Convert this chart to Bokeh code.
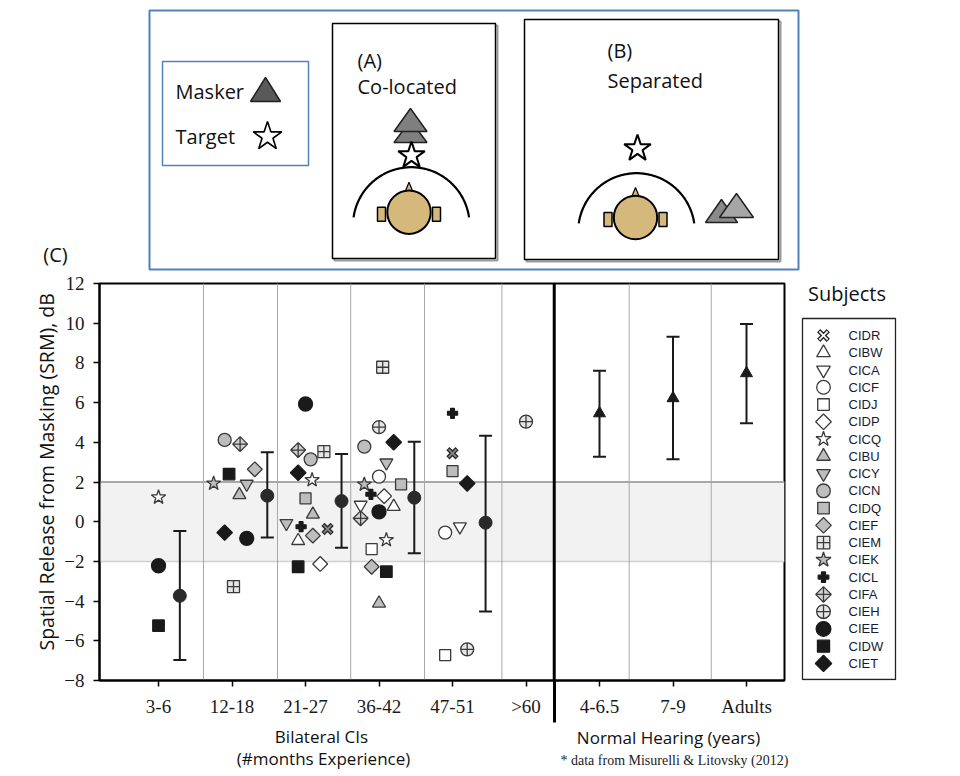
import numpy as np
from bokeh.plotting import figure
from bokeh.models import (Range1d, FixedTicker, Span, BoxAnnotation, Whisker, TeeHead,
                          ColumnDataSource)
from bokeh.layouts import column, row
from bokeh.embed import file_html
from bokeh.resources import INLINE
from bokeh.core.properties import value

# ---------------- data ----------------
group_labels = ["3-6", "12-18", "21-27", "36-42", "47-51", ">60", "4-6.5", "7-9", "Adults"]

subjects = ["CIDR", "CIBW", "CICA", "CICF", "CIDJ", "CIDP", "CICQ", "CIBU", "CICY", "CICN",
            "CIDQ", "CIEF", "CIEM", "CIEK", "CICL", "CIFA", "CIEH", "CIEE", "CIDW", "CIET"]

pt_subject = ["CICQ", "CIEE", "CIDW",
              "CICN", "CIFA", "CIDW", "CIEF", "CIEK", "CICY", "CIBU", "CIET", "CIEE", "CIEM",
              "CIEE", "CIFA", "CIEM", "CICN", "CIET", "CICQ", "CIDQ", "CIBU", "CICY", "CICL",
              "CIEF", "CIDR", "CIBW", "CIDW", "CIDP",
              "CIEM", "CIEH", "CICN", "CIET", "CICY", "CICF", "CIEK", "CIDQ", "CICL", "CIDP",
              "CICA", "CIBW", "CIEE", "CIFA", "CICQ", "CIDJ", "CIEF", "CIDW", "CIBU",
              "CICL", "CIDR", "CIDQ", "CIET", "CICF", "CICA", "CIDJ", "CIEH",
              "CIEH"]
pt_group = [0, 0, 0,
            1, 1, 1, 1, 1, 1, 1, 1, 1, 1,
            2, 2, 2, 2, 2, 2, 2, 2, 2, 2, 2, 2, 2, 2, 2,
            3, 3, 3, 3, 3, 3, 3, 3, 3, 3, 3, 3, 3, 3, 3, 3, 3, 3, 3,
            4, 4, 4, 4, 4, 4, 4, 4,
            5]
pt_offset = [0.0, 0.0, 0.0,
             -0.10, 0.11, -0.04, 0.31, -0.25, 0.20, 0.10, -0.10, 0.20, 0.02,
             0.0, -0.10, 0.25, 0.07, -0.10, 0.09, 0.0, 0.10, -0.26, -0.06, 0.10, 0.30, -0.10, -0.10, 0.20,
             0.05, 0.0, -0.20, 0.20, 0.10, 0.0, -0.20, 0.30, -0.11, 0.07, -0.25, 0.20, 0.0, -0.25, 0.10,
             -0.10, -0.10, 0.10, 0.0,
             0.0, 0.0, 0.0, 0.20, -0.10, 0.10, -0.10, 0.20,
             0.0]
pt_srm = [1.23, -2.22, -5.24,
          4.12, 3.91, 2.40, 2.64, 1.93, 1.90, 1.35, -0.55, -0.84, -3.27,
          5.93, 3.61, 3.53, 3.14, 2.47, 2.10, 1.18, 0.37, -0.08, -0.25, -0.70, -0.37, -0.96, -2.27, -2.13,
          7.78, 4.76, 3.78, 4.00, 2.97, 2.27, 1.88, 1.88, 1.38, 1.29, 0.84, 0.76, 0.50, 0.17, -0.92,
          -1.38, -2.27, -2.52, -4.11,
          5.46, 3.45, 2.55, 1.93, -0.55, -0.25, -6.72, -6.43,
          5.04]

ci_group = [0, 1, 2, 3, 4]
ci_offset = [0.29, 0.48, 0.49, 0.48, 0.45]
ci_mean = [-3.73, 1.31, 1.04, 1.21, -0.05]
ci_lo = [-6.97, -0.80, -1.31, -1.59, -4.53]
ci_hi = [-0.47, 3.50, 3.41, 4.03, 4.33]

nh_group = [6, 7, 8]
nh_mean = [5.46, 6.22, 7.48]
nh_lo = [3.27, 3.14, 4.96]
nh_hi = [7.61, 9.32, 9.96]

group_bounds = [0.612, 1.619, 2.615, 3.619, 4.672, 6.404, 7.52]
ci_nh_bound = 5.384
band_lo, band_hi = -2, 2

# ---------------- styles ----------------
GREY = "#bdbdbd"
WHITE = "#ffffff"
BLACK = "#1a1a1a"
EDGE = "#3a3a3a"
D45 = np.pi / 4
style = {
    "CIDR": dict(marker="x", fill=None, size=13, angle=0),
    "CIBW": dict(marker="triangle", fill=WHITE, size=13, angle=0),
    "CICA": dict(marker="inverted_triangle", fill=WHITE, size=13, angle=0),
    "CICF": dict(marker="circle", fill=WHITE, size=13, angle=0),
    "CIDJ": dict(marker="square", fill=WHITE, size=11, angle=0),
    "CIDP": dict(marker="square", fill=WHITE, size=10.5, angle=D45),
    "CICQ": dict(marker="star", fill=WHITE, size=15, angle=0),
    "CIBU": dict(marker="triangle", fill=GREY, size=13, angle=0),
    "CICY": dict(marker="inverted_triangle", fill=GREY, size=13, angle=0),
    "CICN": dict(marker="circle", fill=GREY, size=13, angle=0),
    "CIDQ": dict(marker="square", fill=GREY, size=11, angle=0),
    "CIEF": dict(marker="square", fill=GREY, size=10.5, angle=D45),
    "CIEM": dict(marker="square_cross", fill="#e6e6e6", size=12, angle=0),
    "CIEK": dict(marker="star", fill=GREY, size=15, angle=0),
    "CICL": dict(marker="plus", fill=BLACK, size=10, angle=0),
    "CIFA": dict(marker="square_x", fill="#d0d0d0", size=10.5, angle=D45),
    "CIEH": dict(marker="circle_cross", fill="#e6e6e6", size=13, angle=0),
    "CIEE": dict(marker="circle", fill=BLACK, size=14, angle=0),
    "CIDW": dict(marker="square", fill=BLACK, size=11.5, angle=0),
    "CIET": dict(marker="square", fill=BLACK, size=11, angle=D45),
}


def draw_marker(fig, xs, ys, s, scale=1.0, inner="#8a8a8a"):
    if s["marker"] == "x":
        fig.scatter(xs, ys, marker="x", size=s["size"] * scale, line_color="#2a2a2a", line_width=4.5)
        fig.scatter(xs, ys, marker="x", size=s["size"] * scale - 2, line_color=inner, line_width=1.6)
        return
    fig.scatter(xs, ys, marker=s["marker"], size=s["size"] * scale, angle=s["angle"],
                fill_color=s["fill"], line_color=EDGE if s["fill"] != BLACK else BLACK,
                line_width=1.3)


def blank(w, h, xr, yr):
    f = figure(width=w, height=h, x_range=xr, y_range=yr,
               x_axis_type=None, y_axis_type=None, toolbar_location=None, min_border=0,
               output_backend="svg")
    f.outline_line_color = None
    f.grid.visible = False
    return f


# page layout (pixels from the page's top-left)
W = 956
H1 = 272                 # diagram strip: page y 0..272
FT, FB = 283, 680        # chart frame top / bottom (page y)
FL, FR = 99, 784         # chart frame left / right (page x)
S_BOT = 724              # bottom of chart strip (page y)
W2 = FR + 2
H2 = S_BOT - H1
BT, BB = FT - H1, S_BOT - FB
H4 = 776 - S_BOT

# ---------------- diagram (top) ----------------
d = blank(W, H1, Range1d(0, W), Range1d(H1, 0))


def box(fig, l, r, t, b, color, lw, shadow=False):
    if shadow:
        fig.quad(left=[l + 2], right=[r + 2], top=[t + 2], bottom=[b + 2],
                 fill_color=None, line_color="#9a9a9a", line_width=2)
    fig.quad(left=[l], right=[r], top=[t], bottom=[b],
             fill_color="white" if shadow else None, line_color=color, line_width=lw)


def tri(fig, ax, ay, hw, by, fill):
    fig.patch([ax, ax - hw, ax + hw], [ay, by, by],
              fill_color=fill, line_color="#222222", line_width=1.5)


def head(fig, cx, cy, arc_cx, arc_cy, arc_r):
    th = np.linspace(np.radians(8), np.radians(172), 60)
    fig.line(arc_cx + arc_r * np.cos(th), arc_cy - arc_r * np.sin(th),
             line_color="black", line_width=2.2)
    tan = "#d5b97c"
    fig.patch([cx, cx - 4.5, cx + 4.5], [cy - 30, cy - 19, cy - 19],
              fill_color=tan, line_color="black", line_width=1.2)
    fig.quad(left=[cx - 31.5, cx + 23.5], right=[cx - 23.5, cx + 31.5],
             top=[cy - 5, cy - 5], bottom=[cy + 9, cy + 9],
             fill_color=tan, line_color="black", line_width=1.5)
    fig.circle([cx], [cy], radius=21.7, fill_color=tan, line_color="black", line_width=2)


BLUE = "#4f81bd"
box(d, 149, 798, 10, 269, BLUE, 2)
box(d, 162, 308, 61, 165, BLUE, 1.5)
box(d, 332, 495, 23, 258, "black", 1.5, shadow=True)
box(d, 524, 778, 19, 259, "black", 1.5, shadow=True)

txt = dict(text_font=value("Open Sans"), text_font_size=value("20px"), text_color="#111111",
           text_baseline="middle", text_align="left")
d.text(x=[175, 175, 357, 357, 607, 607],
       y=[91, 136, 60, 86, 50, 80],
       text=["Masker", "Target", "(A)", "Co-located", "(B)", "Separated"], **txt)
d.text(x=[55], y=[254], text=["(C)"], **dict(txt, text_align="center"))

tri(d, 265, 77, 15, 101, "#595959")
d.scatter([267], [136], marker="star", size=30, fill_color="white", line_color="black",
          line_width=1.6)

# (A) co-located
head(d, 408.5, 211.7, 410.8, 225, 58.3)
tri(d, 410, 120, 16.5, 142, "#7f7f7f")
tri(d, 410, 108, 16.5, 131, "#7f7f7f")
d.scatter([411], [155], marker="star", size=28, fill_color="white", line_color="black",
          line_width=2)

# (B) separated
head(d, 635, 217, 636, 231, 58.3)
d.scatter([637], [148], marker="star", size=28, fill_color="white", line_color="black",
          line_width=2)
tri(d, 721, 199, 16, 222, "#8a8a8a")
tri(d, 736, 193, 17, 217, "#a6a6a6")

# ---------------- main chart ----------------
p = figure(width=W2, height=H2, x_range=Range1d(-0.803, 8.517), y_range=Range1d(-8, 12),
           toolbar_location=None, output_backend="svg",
           min_border_left=FL, min_border_right=W2 - FR, min_border_top=BT, min_border_bottom=BB)
p.grid.visible = False
p.outline_line_color = "black"
p.outline_line_width = 2

p.add_layout(BoxAnnotation(bottom=band_lo, top=band_hi, fill_color="#f2f2f2", fill_alpha=1,
                           line_alpha=0, level="underlay"))
p.add_layout(Span(location=band_hi, dimension="width", line_color="#a9a9a9", line_width=2,
                  level="underlay"))
p.add_layout(Span(location=band_lo, dimension="width", line_color="#d0d0d0", line_width=1.5,
                  level="underlay"))
for gb in group_bounds:
    p.add_layout(Span(location=gb, dimension="height", line_color="#a8a8a8", line_width=1,
                      level="underlay"))
p.add_layout(Span(location=ci_nh_bound, dimension="height", line_color="black", line_width=3,
                  level="underlay"))

# individual subjects
for sname in subjects:
    xs = [g + off for s_, g, off in zip(pt_subject, pt_group, pt_offset) if s_ == sname]
    ys = [v for s_, v in zip(pt_subject, pt_srm) if s_ == sname]
    if xs:
        draw_marker(p, xs, ys, style[sname])

# group means with error bars
ci_src = ColumnDataSource(dict(x=[g + off for g, off in zip(ci_group, ci_offset)],
                               m=ci_mean, lo=ci_lo, hi=ci_hi))
nh_src = ColumnDataSource(dict(x=nh_group, m=nh_mean, lo=nh_lo, hi=nh_hi))
for src in (ci_src, nh_src):
    p.add_layout(Whisker(source=src, base="x", lower="lo", upper="hi", dimension="height",
                         line_color=BLACK, line_width=2,
                         upper_head=TeeHead(size=13, line_color=BLACK, line_width=2),
                         lower_head=TeeHead(size=13, line_color=BLACK, line_width=2)))
p.scatter("x", "m", source=ci_src, marker="circle", size=13, fill_color="#2a2a2a",
          line_color="#2a2a2a")
p.scatter("x", "m", source=nh_src, marker="triangle", size=12, fill_color=BLACK,
          line_color=BLACK)

# axes
SEP_OUT = 42
p.yaxis.ticker = FixedTicker(ticks=list(range(-8, 13, 2)))
p.xaxis.ticker = FixedTicker(ticks=list(range(len(group_labels))), minor_ticks=[ci_nh_bound])
p.xaxis.major_label_overrides = {i: lab for i, lab in enumerate(group_labels)}
for ax in (p.xaxis, p.yaxis):
    ax.major_label_text_font = "Liberation Serif"
    ax.major_label_text_font_size = "19px"
    ax.major_label_text_color = "#1a1a1a"
    ax.major_tick_in = 0
    ax.major_tick_out = 6
    ax.major_tick_line_width = 1.5
    ax.major_tick_line_color = "black"
    ax.axis_line_width = 2
    ax.axis_line_color = "black"
p.yaxis.minor_tick_line_color = None
p.xaxis.minor_tick_in = 0
p.xaxis.minor_tick_out = SEP_OUT
p.xaxis.minor_tick_line_width = 3
p.xaxis.minor_tick_line_color = "black"
p.yaxis.major_label_standoff = 9
p.xaxis.major_label_standoff = 15 - SEP_OUT
p.yaxis.axis_label = "\u00a0\u00a0\u00a0\u00a0Spatial Release from Masking (SRM), dB"
p.yaxis.axis_label_text_font = "Open Sans"
p.yaxis.axis_label_text_font_size = "19.5px"
p.yaxis.axis_label_text_font_style = "normal"
p.yaxis.axis_label_text_color = "#111111"
p.yaxis.axis_label_standoff = 1

# ---------------- legend (right) ----------------
W3 = W - W2
lg = figure(width=W3, height=H2, x_range=Range1d(W2, W), y_range=Range1d(FB, FT),
            x_axis_type=None, y_axis_type=None, toolbar_location=None,
            min_border_left=0, min_border_right=0, min_border_top=BT, min_border_bottom=BB,
            output_backend="svg")
lg.outline_line_color = None
lg.grid.visible = False
lg.text(x=[846.5], y=[293], text=["Subjects"], text_font=value("Open Sans"),
        text_font_size=value("20px"), text_color="#111111", text_align="center",
        text_baseline="middle")
lg.quad(left=[802], right=[895], top=[318], bottom=[679], fill_color="white",
        line_color="#222222", line_width=1.3)
row_y = [335 + 17.26 * i for i in range(len(subjects))]
for i, sname in enumerate(subjects):
    draw_marker(lg, [823], [row_y[i]], style[sname], scale=1.05, inner="white")
lg.text(x=[848] * len(subjects), y=row_y, text=subjects, text_font=value("Liberation Sans"),
        text_font_size=value("13px"), text_color="#1a1a2e", text_align="left",
        text_baseline="middle")

# ---------------- axis titles (bottom strip) ----------------
b = blank(W, H4, Range1d(0, W), Range1d(776, S_BOT))
lab = dict(text_font=value("Open Sans"), text_font_size=value("17px"), text_color="#111111",
           text_align="center", text_baseline="middle")
b.text(x=[321, 323, 668], y=[736, 758, 736.5],
       text=["Bilateral CIs", "(#months Experience)", "Normal Hearing (years)"], **lab)
b.text(x=[560], y=[760], text=["* data from Misurelli & Litovsky (2012)"],
       text_font=value("Liberation Serif"), text_font_size=value("14px"),
       text_color="#222222", text_align="left", text_baseline="middle")

layout = column(d, row(p, lg), b)
open("out.html", "w").write(file_html(layout, INLINE))
